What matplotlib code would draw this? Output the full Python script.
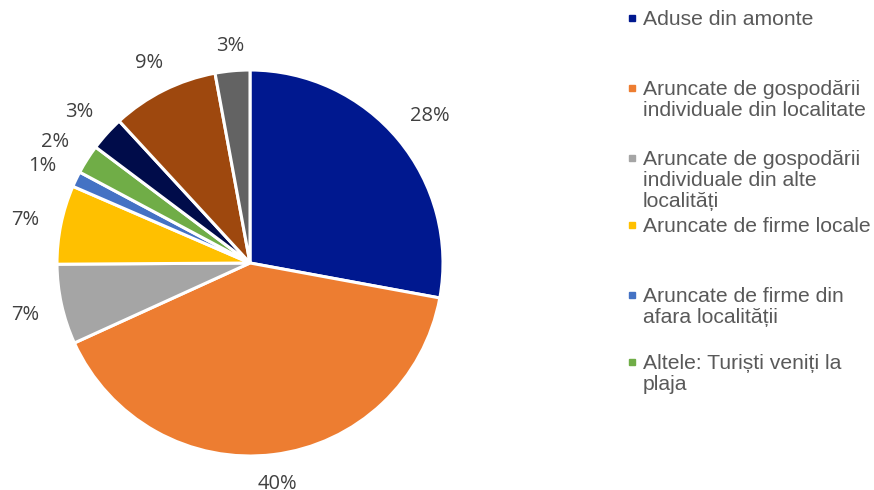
import matplotlib
matplotlib.use("Agg")
import matplotlib.pyplot as plt
import numpy as np

values = [27.9, 40.3, 6.7, 6.6, 1.3, 2.45, 2.9, 8.95, 2.9]
colors = ["#00188F", "#ED7D31", "#A5A5A5", "#FFC000", "#4472C4",
          "#70AD47", "#000C4A", "#9E480E", "#636363"]
legend_labels = [
    "Aduse din amonte",
    "Aruncate de gospodării\nindividuale din localitate",
    "Aruncate de gospodării\nindividuale din alte\nlocalități",
    "Aruncate de firme locale",
    "Aruncate de firme din\nafara localității",
    "Altele: Turiști veniți la\nplaja",
]

W, H = 874, 490
fig = plt.figure(figsize=(W / 100, H / 100), dpi=100)

cx, cy, R = 250, 263, 193
lim = 1.25
side = 2 * lim * R
ax = fig.add_axes([(cx - side / 2) / W, (H - cy - side / 2) / H, side / W, side / H])
wedges, _ = ax.pie(
    values, colors=colors, startangle=90, counterclock=False,
    wedgeprops=dict(edgecolor="white", linewidth=2.2),
)
ax.set_xlim(-lim, lim)
ax.set_ylim(-lim, lim)
ax.set_aspect("equal")
ax.axis("off")

# percentage labels placed just outside the rim (Excel "outside end" style)
fig.canvas.draw()
renderer = fig.canvas.get_renderer()
total = sum(values)
for w, v in zip(wedges, values):
    theta = np.deg2rad((w.theta1 + w.theta2) / 2)
    t = ax.text(0, 0, f"{v / total * 100:.0f}%", fontsize=14.5, color="#404040",
                family=["Open Sans", "DejaVu Sans"], ha="center", va="center",
                clip_on=False)
    bb = t.get_window_extent(renderer)
    hw, hh = bb.width / 2, bb.height / 2
    gap = 16.5 + 4.5 * abs(np.cos(theta))
    off = abs(hw * np.cos(theta)) + abs(hh * np.sin(theta))
    d = (R + gap + off) / R
    shift = 3.0 if np.sin(theta) > -0.5 else 0.0
    t.set_position((d * np.cos(theta), d * np.sin(theta) - shift / R))

ys = [18, 88, 158, 225, 295, 362]
for lab, col, y in zip(legend_labels, colors, ys):
    fig.patches.append(plt.Rectangle((629 / W, (H - y - 3) / H), 6 / W, 6 / H,
                                     transform=fig.transFigure, color=col))
    fig.text(643 / W, (H - y + 8) / H, lab, fontsize=15.2, color="#595959",
             family=["Liberation Sans", "DejaVu Sans"], va="top",
             linespacing=1.12, transform=fig.transFigure)

fig.savefig("out.png", dpi=100)
